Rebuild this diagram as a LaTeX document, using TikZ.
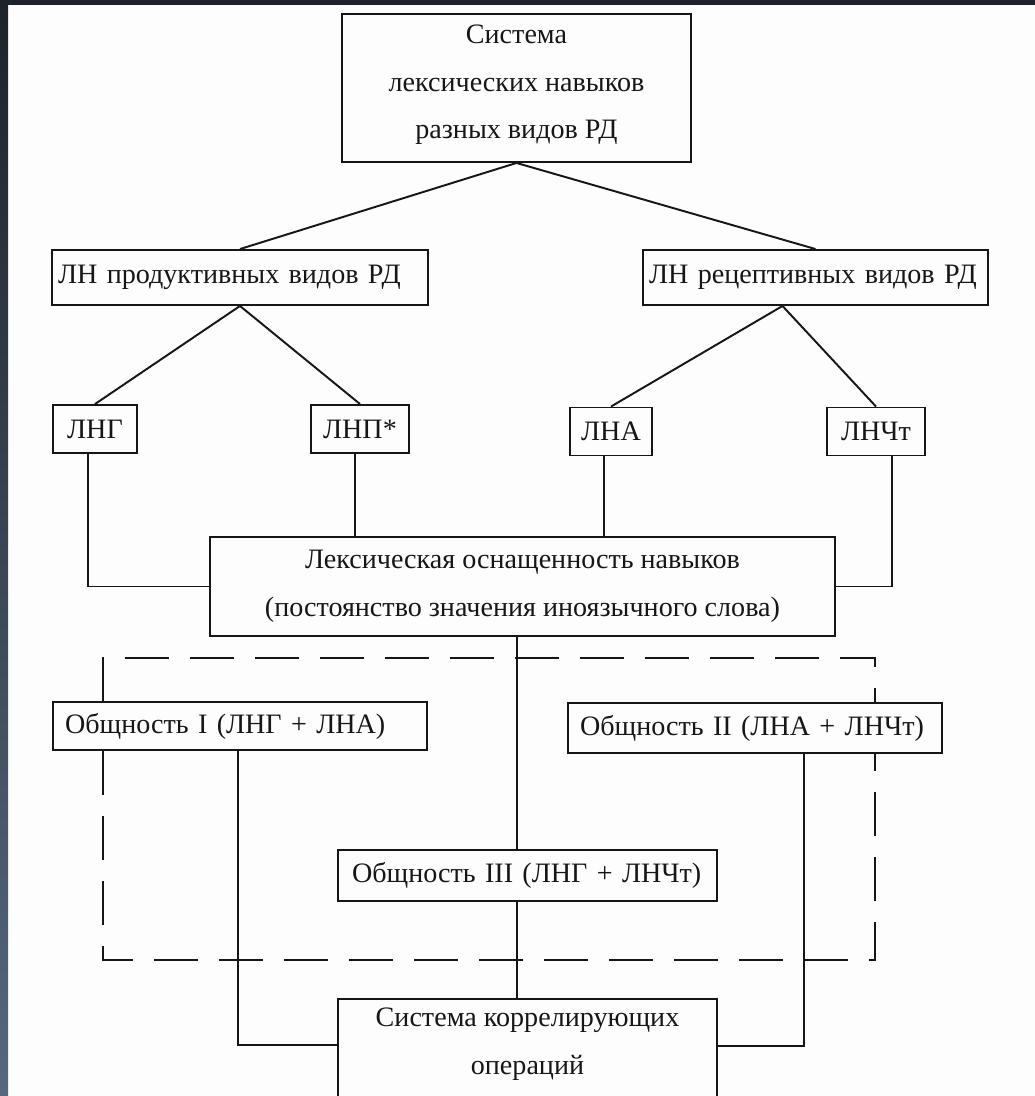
\documentclass[tikz,border=0pt]{standalone}
\usepackage{fontspec}
\setmainfont{Liberation Serif}
\usetikzlibrary{positioning}
\definecolor{ink}{HTML}{161616}
\definecolor{paper}{HTML}{FDFDFD}
\definecolor{frametop}{HTML}{1D232B}
\definecolor{framebot}{HTML}{56687E}

\begin{document}
\begin{tikzpicture}[
      x=0.02cm, y=-0.02cm,
      blk/.style={draw=ink, fill=paper, line width=1.1pt, inner sep=0pt, text=ink,
        font={\fontsize{16}{27.2}\selectfont}, align=center},
      small/.style={blk, minimum width=#1, minimum height=0.96cm},
      wide/.style 2 args={blk, align=left, inner xsep=#1, text width=#2},
      conn/.style={draw=ink, line width=1.1pt},
      dashln/.style={conn, dash pattern=on 25pt off 12pt}
  ]
  \clip (0,0) rectangle (1035,1096);
  \fill[paper] (0,0) rectangle (1035,1096);
  \shade[top color=frametop, bottom color=framebot] (0,0) rectangle (8,1096);
  \fill[frametop] (0,0) rectangle (1035,5);

  \node[blk, minimum width=6.98cm, minimum height=2.96cm, text depth=7pt] (sys) at (516.5,88)
    {Система\\лексических навыков\\разных видов РД};
  \node[wide={0.12cm}{7.28cm}, minimum height=1.1cm] (prod) at (240,277.5) {ЛН продуктивных видов РД};
  \node[wide={0.12cm}{6.66cm}, minimum height=1.1cm] (recep) at (815.5,277.5) {ЛН рецептивных видов РД};
  \node[small=1.68cm] (lng) at (95,429) {ЛНГ};
  \node[small=1.96cm] (lnp) at (360,429) {ЛНП*};
  \node[small=1.64cm] (lna) at (611,431.5) {ЛНА};
  \node[small=1.96cm] (lnch) at (876,431.5) {ЛНЧт};
  \node[blk, minimum width=12.5cm, minimum height=1.98cm] (lex) at (522.5,586.5)
    {Лексическая оснащенность навыков\\(постоянство значения иноязычного слова)};
  \node[wide={0.24cm}{7cm}, minimum height=0.96cm] (ob1) at (240,726) {Общность I (ЛНГ + ЛНА)};
  \node[wide={0.24cm}{7cm}, minimum height=1cm] (ob2) at (755,728) {Общность II (ЛНА + ЛНЧт)};
  \node[wide={0.28cm}{7.02cm}, minimum height=1.02cm] (ob3) at (527.5,875.5) {Общность III (ЛНГ + ЛНЧт)};
  \node[blk, minimum width=7.58cm, anchor=north, inner ysep=5pt, text depth=1.2cm] (korr) at (527.5,998)
    {Система коррелирующих\\операций};

  \coordinate (spine) at (517,0);
  \coordinate (dnw) at (103,658);
  \coordinate (dne) at (875,658);
  \coordinate (dsw) at (103,960);
  \coordinate (dse) at (875,960);
  \coordinate (jl) at (238,1045);
  \coordinate (jr) at (804,1046);

  \draw[conn] (sys.south) -- (prod.north);
  \draw[conn] (sys.south) -- (recep.north);
  \draw[conn] (prod.south) -- (lng.north);
  \draw[conn] (prod.south) -- (lnp.north);
  \draw[conn] ([xshift=-0.66cm]recep.south) -- (lna.north);
  \draw[conn] ([xshift=-0.66cm]recep.south) -- (lnch.north);
  \draw[conn] ([xshift=-0.14cm]lng.south) |- (lex.west);
  \draw[conn] ([xshift=-0.1cm]lnp.south) -- ([xshift=-0.1cm]lnp.south |- lex.north);
  \draw[conn] ([xshift=-0.14cm]lna.south) -- ([xshift=-0.14cm]lna.south |- lex.north);
  \draw[conn] ([xshift=0.32cm]lnch.south) |- (lex.east);
  \draw[dashln] (dnw |- ob1.north) -- (dnw) -- (dne) -- (dne |- ob2.north);
  \draw[dashln] (dnw |- ob1.south) -- (dsw) -- (dse) -- (dse |- ob2.south);
  \draw[conn] (spine |- lex.south) -- (spine |- ob3.north);
  \draw[conn] (spine |- ob3.south) -- (spine |- korr.north);
  \draw[conn] (jl |- ob1.south) -- (jl) -- (jl -| korr.west);
  \draw[conn] (jr |- ob2.south) -- (jr) -- (jr -| korr.east);
\end{tikzpicture}
\end{document}
